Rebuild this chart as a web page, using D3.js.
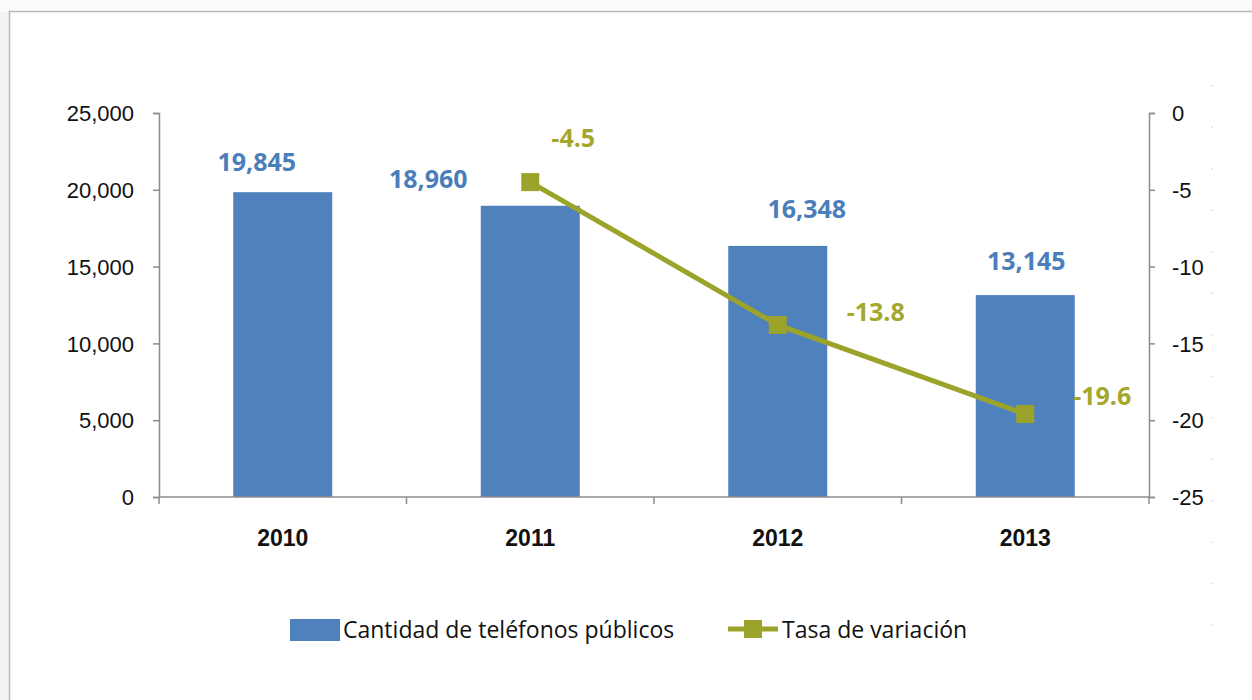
<!DOCTYPE html>
<html>
<head>
<meta charset="utf-8">
<script src="https://cdn.jsdelivr.net/npm/d3@7"></script>
<style>
  html, body { margin: 0; padding: 0; background: #f3f3f3; }
  svg { display: block; }
  text { font-family: "Liberation Sans", Arial, sans-serif; }
</style>
</head>
<body>
<svg id="chart" width="1252" height="700"></svg>
<script>
// ---- data ----
const years = ["2010", "2011", "2012", "2013"];
const phones = [19845, 18960, 16348, 13145];
const rateYears = ["2011", "2012", "2013"];
const rates = [-4.5, -13.8, -19.6];
const leftTicks = [0, 5000, 10000, 15000, 20000, 25000];
const rightTicks = [0, -5, -10, -15, -20, -25];
const seriesNames = ["Cantidad de teléfonos públicos", "Tasa de variación"];

// ---- layout (not data) ----
const barLabelOffsets = [[-26, -21], [-102, -18], [29, -28], [1, -25]];
const rateLabelOffsets = [[43, -35], [98, -4], [77, -9]];
const blue = "#4F81BD", blueText = "#4A7EBB", olive = "#9BA32A", oliveText = "#A5A62C";
const hy = s => s.replace(/\u2212/g, "-");

const svg = d3.select("#chart");

// frame
svg.append("rect").attr("x", 0).attr("y", 0).attr("width", 1252).attr("height", 12).attr("fill", "#fbfbfb");
svg.append("rect").attr("x", 9.5).attr("y", 11.5).attr("width", 1260).attr("height", 700)
  .attr("fill", "#ffffff").attr("stroke", "#b8b8b8").attr("stroke-width", 1.5);
svg.append("line").attr("x1", 1212).attr("x2", 1212).attr("y1", 85).attr("y2", 650)
  .attr("stroke", "#d3dbe8").attr("stroke-width", 1.5).attr("stroke-dasharray", "1.5,40");

const x = d3.scaleBand().domain(years).range([159, 1149]).padding(0);
const yL = d3.scaleLinear().domain([0, 25000]).range([497, 113]);
const yR = d3.scaleLinear().domain([-25, 0]).range([497, 113]);
const bw = x.bandwidth() * 0.4;
const cx = d => x(d) + x.bandwidth() / 2;

// bars
svg.append("g").selectAll("rect").data(years).join("rect")
  .attr("x", d => cx(d) - bw / 2)
  .attr("y", (d, i) => yL(phones[i]))
  .attr("width", bw)
  .attr("height", (d, i) => yL(0) - yL(phones[i]))
  .attr("fill", blue);

// left axis
const gL = svg.append("g").attr("transform", "translate(159,0)")
  .call(d3.axisLeft(yL).tickValues(leftTicks).tickSize(6).tickPadding(19).tickFormat(d3.format(",")));
// right axis
const gR = svg.append("g").attr("transform", "translate(1149,0)")
  .call(d3.axisRight(yR).tickValues(rightTicks).tickSize(6).tickPadding(17).tickFormat(d => hy(String(d))));
// bottom axis
const gB = svg.append("g").attr("transform", "translate(0,497)")
  .call(d3.axisBottom(x).tickSize(0).tickPadding(33));
[gL, gR, gB].forEach(g => {
  g.select(".domain").attr("stroke", "#8c8c8c").attr("stroke-width", 1.5);
  g.selectAll(".tick line").attr("stroke", "#8c8c8c").attr("stroke-width", 1.5);
  g.selectAll("text").attr("fill", "#111").style("font-size", "22px")
    .style("font-family", "'Liberation Sans', Arial, sans-serif");
});
gL.selectAll(".tick text").attr("dy", "0.35em");
gR.selectAll(".tick text").attr("dy", "0.35em");
gB.select(".domain").attr("d", "M159,0H1149");
gB.selectAll(".tick text").style("font-weight", "bold").style("font-size", "23px").attr("dy", "0.71em");
// category separator ticks
gB.selectAll(".sep").data(d3.range(0, years.length + 1)).join("line")
  .attr("x1", i => 159 + i * x.step()).attr("x2", i => 159 + i * x.step())
  .attr("y1", 0).attr("y2", 7).attr("stroke", "#8c8c8c").attr("stroke-width", 1.5);

// bar labels
svg.append("g").selectAll("text").data(years).join("text")
  .attr("x", (d, i) => cx(d) + barLabelOffsets[i][0])
  .attr("y", (d, i) => yL(phones[i]) + barLabelOffsets[i][1])
  .attr("text-anchor", "middle")
  .attr("fill", blueText).style("font-family", "'Open Sans', sans-serif")
  .style("font-size", "25px").style("font-weight", "bold")
  .text((d, i) => d3.format(",")(phones[i]));

// line
const line = d3.line().x((d, i) => cx(rateYears[i])).y(d => yR(d));
svg.append("path").datum(rates).attr("d", line)
  .attr("fill", "none").attr("stroke", olive).attr("stroke-width", 5);
svg.append("g").selectAll("rect").data(rates).join("rect")
  .attr("x", (d, i) => cx(rateYears[i]) - 9).attr("y", d => yR(d) - 9)
  .attr("width", 18).attr("height", 18).attr("fill", olive);
svg.append("g").selectAll("text").data(rates).join("text")
  .attr("x", (d, i) => cx(rateYears[i]) + rateLabelOffsets[i][0])
  .attr("y", (d, i) => yR(d) + rateLabelOffsets[i][1])
  .attr("text-anchor", "middle")
  .attr("fill", oliveText).style("font-family", "'Open Sans', sans-serif")
  .style("font-size", "25px").style("font-weight", "bold")
  .text(d => hy(d3.format(".1f")(d)));

// legend
const lg = svg.append("g");
lg.append("rect").attr("x", 290).attr("y", 619).attr("width", 50).attr("height", 22).attr("fill", blue);
lg.append("text").attr("x", 343).attr("y", 638).attr("fill", "#111")
  .style("font-family", "'Open Sans', sans-serif").style("font-size", "23px").text(seriesNames[0]);
lg.append("line").attr("x1", 728).attr("x2", 778).attr("y1", 629).attr("y2", 629)
  .attr("stroke", olive).attr("stroke-width", 5);
lg.append("rect").attr("x", 744).attr("y", 620).attr("width", 18).attr("height", 18).attr("fill", olive);
lg.append("text").attr("x", 782).attr("y", 638).attr("fill", "#111")
  .style("font-family", "'Open Sans', sans-serif").style("font-size", "23px").text(seriesNames[1]);
</script>
</body>
</html>
